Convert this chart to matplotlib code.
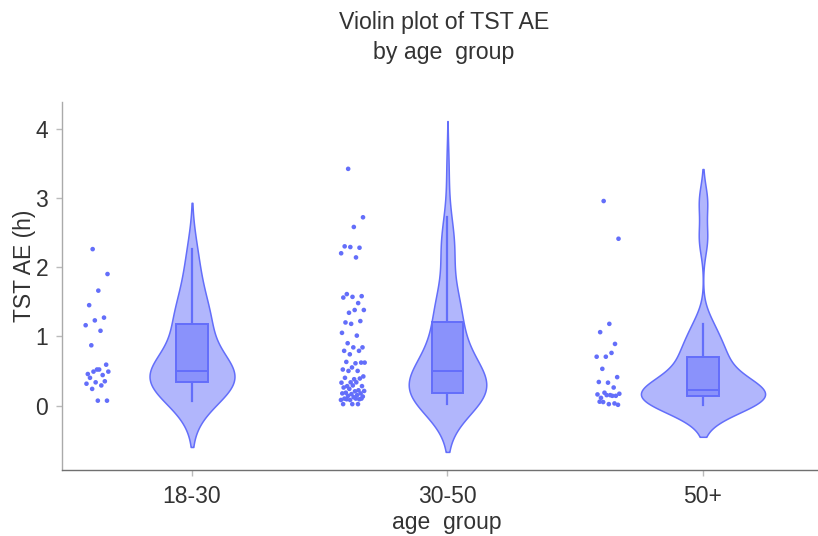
import numpy as np
import matplotlib
matplotlib.use("Agg")
import matplotlib.pyplot as plt

plt.rcParams['font.family'] = ['Liberation Sans', 'DejaVu Sans']

categories = ["18-30", "30-50", "50+"]

tst_18_30 = [2.26, 1.90, 1.66, 1.45, 1.27, 1.23, 1.16, 1.08, 0.87, 0.59, 0.52, 0.455,
             0.44, 0.49, 0.49, 0.52, 0.40, 0.35, 0.335, 0.315, 0.29, 0.24, 0.07, 0.07]

tst_30_50 = [3.42, 2.72, 2.58, 2.30, 2.28, 2.29, 2.20, 2.14, 1.61, 1.58, 1.57, 1.56,
             1.48, 1.34, 1.38, 1.38, 1.20, 1.22, 1.18, 1.05, 1.01, 0.90, 0.84, 0.84,
             0.79, 0.79, 0.74, 0.62, 0.61, 0.63, 0.62, 0.55, 0.52, 0.50, 0.50, 0.42,
             0.38, 0.40, 0.39, 0.335, 0.33, 0.335, 0.28, 0.28, 0.29, 0.26, 0.22, 0.24,
             0.21, 0.205, 0.185, 0.175, 0.165, 0.175, 0.15, 0.14, 0.13, 0.12, 0.10,
             0.09, 0.08, 0.08, 0.10, 0.09, 0.10, 0.02, 0.02, 0.02]

tst_50p = [2.955, 2.41, 1.18, 1.06, 0.89, 0.705, 0.705, 0.76, 0.53, 0.41, 0.33, 0.34,
           0.26, 0.185, 0.17, 0.15, 0.11, 0.14, 0.15, 0.16, 0.14, 0.05, 0.01, 0.02,
           0.055, 0.03]

groups = [tst_18_30, tst_30_50, tst_50p]

y_ticks = [0, 1, 2, 3, 4]

LINE = '#636efa'
VFILL = '#b1b6fc'
BFILL = '#8a92fb'
TXT = '#333333'

W, H = 818, 536
fig = plt.figure(figsize=(W / 100, H / 100), dpi=100)
ax = fig.add_axes([62 / W, (H - 470) / H, 756 / W, 368 / H])


def silverman(d):
    d = np.asarray(d)
    n = len(d)
    std = d.std(ddof=1)
    q1, q3 = np.percentile(d, [25, 75])
    iqr = q3 - q1
    s = min(std, iqr / 1.349) if iqr > 0 else std
    return 1.059 * s * n ** (-0.2)


kdes = []
for d in groups:
    d = np.asarray(d)
    bw = silverman(d)
    ys = np.linspace(d.min() - 2 * bw, d.max() + 2 * bw, 400)
    dens = np.exp(-0.5 * ((ys[:, None] - d[None, :]) / bw) ** 2).sum(axis=1)
    dens /= (len(d) * bw * np.sqrt(2 * np.pi))
    kdes.append((ys, dens))

max_dens = max(k[1].max() for k in kdes)
half_width = 0.243
box_hw = 0.061
pt_offset = -0.37
jit = 0.047

for i, (d, (ys, dens)) in enumerate(zip(groups, kdes)):
    d = np.asarray(d)
    w = dens / max_dens * half_width
    ax.fill_betweenx(ys, i - w, i + w, facecolor=VFILL, edgecolor=LINE,
                     linewidth=1.1, zorder=2)
    q1, med, q3 = np.percentile(d, [25, 50, 75])
    iqr = q3 - q1
    upper = d[d <= q3 + 1.5 * iqr].max()
    lower = d[d >= q1 - 1.5 * iqr].min()
    ax.plot([i, i], [q3, upper], color=LINE, lw=1.6, zorder=3)
    ax.plot([i, i], [lower, q1], color=LINE, lw=1.6, zorder=3)
    ax.add_patch(plt.Rectangle((i - box_hw, q1), 2 * box_hw, q3 - q1,
                               facecolor=BFILL, edgecolor=LINE, lw=1.4, zorder=4))
    ax.plot([i - box_hw, i + box_hw], [med, med], color=LINE, lw=1.4, zorder=5)
    # deterministic jitter
    idx = np.arange(len(d))
    frac = (idx * 0.6180339887 + 0.3) % 1.0
    xs = i + pt_offset + (frac - 0.5) * 2 * jit
    ax.scatter(xs, d, s=11, color=LINE, edgecolors='none', zorder=6)

ax.set_xlim((62 - 192) / 255.5, (818 - 192) / 255.5)
ax.set_ylim(-0.932, 4.386)
ax.set_xticks(range(len(categories)))
ax.set_xticklabels(categories)
ax.set_yticks(y_ticks)

for s in ['top', 'right']:
    ax.spines[s].set_visible(False)
ax.spines['left'].set_color('#aaaaaa')
ax.spines['bottom'].set_color('#707070')
ax.spines['left'].set_linewidth(1.0)
ax.spines['bottom'].set_linewidth(1.0)
ax.tick_params(axis='both', labelsize=16.5, labelcolor=TXT, color='#bbbbbb',
               length=4, width=1)
ax.tick_params(axis='x', pad=7)
ax.tick_params(axis='y', pad=6)

ax.set_xlabel('age  group', fontsize=16.5, color=TXT)
ax.set_ylabel('TST AE (h)', fontsize=16.5, color=TXT)
ax.xaxis.set_label_coords((447 - 62) / 756, (470 - 522) / 368)
ax.yaxis.set_label_coords((25 - 62) / 756, (470 - 266) / 368)
ax.xaxis.label.set_verticalalignment('center')
ax.yaxis.label.set_verticalalignment('center')

fig.text(444 / W, 1 - 22 / H, 'Violin plot of TST AE', ha='center', va='center',
         fontsize=16.7, color=TXT)
fig.text(444 / W, 1 - 52 / H, 'by age  group', ha='center', va='center',
         fontsize=16.7, color=TXT)

fig.savefig('out.png', dpi=100)
